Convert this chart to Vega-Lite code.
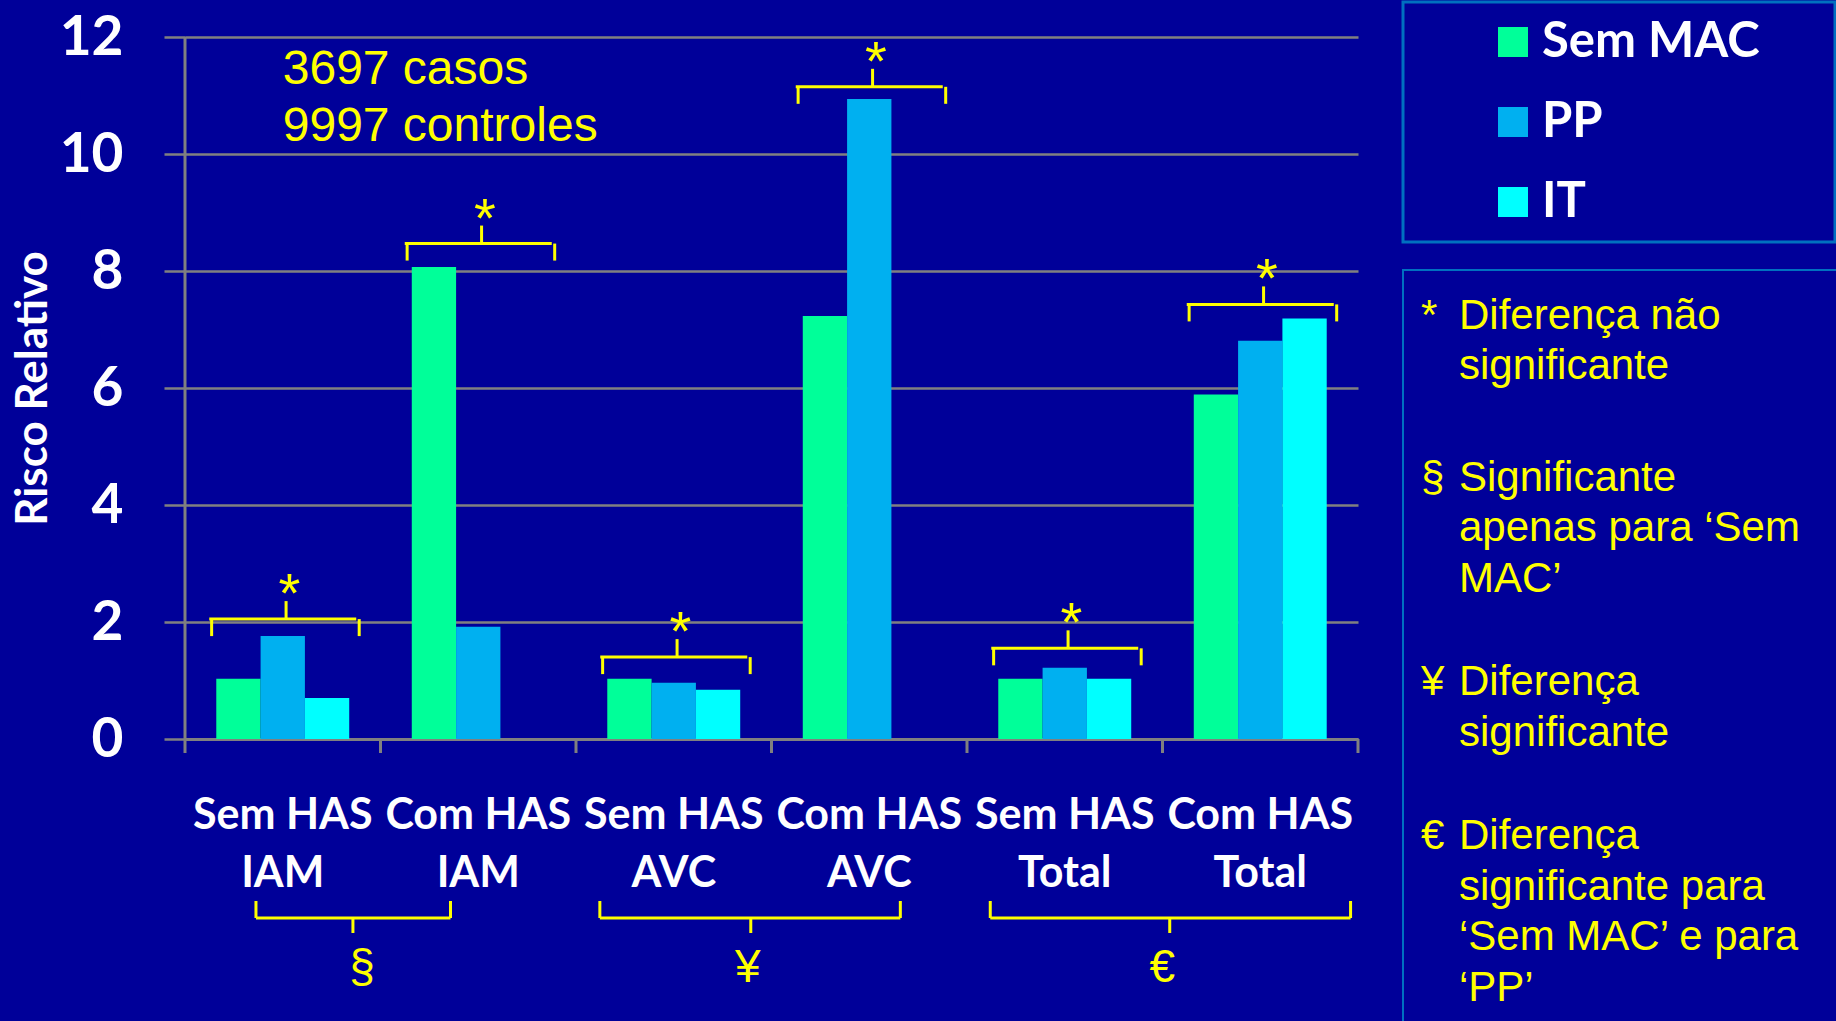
{
  "$schema": "https://vega.github.io/schema/vega-lite/v6.json",
  "background": "#000099",
  "padding": {"left": 11, "top": 0, "right": 0, "bottom": 0},
  "config": {"view": {"stroke": null}, "font": "Lato"},
  "datasets": {
    "risco": [
      {"grupo": "Sem HAS IAM", "metodo": "Sem MAC", "risco": 1.03},
      {"grupo": "Sem HAS IAM", "metodo": "PP", "risco": 1.76},
      {"grupo": "Sem HAS IAM", "metodo": "IT", "risco": 0.7},
      {"grupo": "Com HAS IAM", "metodo": "Sem MAC", "risco": 8.07},
      {"grupo": "Com HAS IAM", "metodo": "PP", "risco": 1.92},
      {"grupo": "Sem HAS AVC", "metodo": "Sem MAC", "risco": 1.03},
      {"grupo": "Sem HAS AVC", "metodo": "PP", "risco": 0.96},
      {"grupo": "Sem HAS AVC", "metodo": "IT", "risco": 0.84},
      {"grupo": "Com HAS AVC", "metodo": "Sem MAC", "risco": 7.23},
      {"grupo": "Com HAS AVC", "metodo": "PP", "risco": 10.94},
      {"grupo": "Sem HAS Total", "metodo": "Sem MAC", "risco": 1.03},
      {"grupo": "Sem HAS Total", "metodo": "PP", "risco": 1.22},
      {"grupo": "Sem HAS Total", "metodo": "IT", "risco": 1.03},
      {"grupo": "Com HAS Total", "metodo": "Sem MAC", "risco": 5.89},
      {"grupo": "Com HAS Total", "metodo": "PP", "risco": 6.81},
      {"grupo": "Com HAS Total", "metodo": "IT", "risco": 7.19}
    ],
    "chaves": [
      {"grupo": "Sem HAS IAM", "nivel": 2.05, "marca": "*"},
      {"grupo": "Com HAS IAM", "nivel": 8.47, "marca": "*"},
      {"grupo": "Sem HAS AVC", "nivel": 1.4, "marca": "*"},
      {"grupo": "Com HAS AVC", "nivel": 11.15, "marca": "*"},
      {"grupo": "Sem HAS Total", "nivel": 1.55, "marca": "*"},
      {"grupo": "Com HAS Total", "nivel": 7.43, "marca": "*"}
    ],
    "chaves_inf": [
      {"simbolo": "§", "xs": 0.363, "xe": 1.358, "xc": 0.859, "xsim": 0.905, "nivel": -3.06},
      {"simbolo": "¥", "xs": 2.122, "xe": 3.659, "xc": 2.894, "xsim": 2.879, "nivel": -3.06},
      {"simbolo": "€", "xs": 4.119, "xe": 5.962, "xc": 5.037, "xsim": 4.999, "nivel": -3.06}
    ],
    "divisas": [{"b": 0}, {"b": 1}, {"b": 2}, {"b": 3}, {"b": 4}, {"b": 5}, {"b": 6}],
    "anotacao": [
      {"grupo": "Sem HAS IAM", "texto": "3697 casos", "nivel": 11.2},
      {"grupo": "Sem HAS IAM", "texto": "9997 controles", "nivel": 10.23}
    ],
    "legenda": [{"metodo": "Sem MAC"}, {"metodo": "PP"}, {"metodo": "IT"}],
    "notas": [
      {"linha": 0, "simbolo": "*", "texto": "Diferença não"},
      {"linha": 1, "texto": "significante"},
      {"linha": 3.2, "simbolo": "§", "texto": "Significante"},
      {"linha": 4.2, "texto": "apenas para ‘Sem"},
      {"linha": 5.2, "texto": "MAC’"},
      {"linha": 7.25, "simbolo": "¥", "texto": "Diferença"},
      {"linha": 8.25, "texto": "significante"},
      {"linha": 10.3, "simbolo": "€", "texto": "Diferença"},
      {"linha": 11.3, "texto": "significante para"},
      {"linha": 12.3, "texto": "‘Sem MAC’ e para"},
      {"linha": 13.3, "texto": "‘PP’"}
    ]
  },
  "spacing": 45,
  "bounds": "flush",
  "hconcat": [
    {
      "width": 1173,
      "height": 737,
      "resolve": {"scale": {"x": "independent"}},
      "layer": [
        {
          "layer": [
            {
              "data": {"name": "risco"},
              "mark": {"type": "bar"},
              "encoding": {
                "x": {
                  "field": "grupo", "type": "nominal", "title": null,
                  "scale": {"domain": ["Sem HAS IAM", "Com HAS IAM", "Sem HAS AVC", "Com HAS AVC", "Sem HAS Total", "Com HAS Total"], "paddingInner": 0.32, "paddingOuter": 0.16},
                  "axis": {
                    "title": null,
                    "labelExpr": "[slice(datum.label, 0, 7), slice(datum.label, 8)]",
                    "labelAngle": 0, "labelFont": "Lato", "labelFontSize": 43, "labelFontWeight": "bold",
                    "labelColor": "#FFFFFF", "labelPadding": 55, "labelBaseline": "top", "labelLineHeight": 58,
                    "labelOverlap": false, "labelLimit": 400,
                    "ticks": false, "domain": true, "domainColor": "#808080", "domainWidth": 3, "grid": false
                  }
                },
                "xOffset": {"field": "metodo", "type": "nominal", "scale": {"domain": ["Sem MAC", "PP", "IT"], "paddingInner": 0, "paddingOuter": 0}},
                "y": {
                  "field": "risco", "type": "quantitative", "title": "Risco Relativo",
                  "scale": {"domain": [0, 12.6], "nice": false, "zero": true},
                  "axis": {
                    "values": [0, 2, 4, 6, 8, 10, 12], "format": "d", "title": "Risco Relativo",
                    "grid": true, "gridColor": "#808080", "gridWidth": 2.5,
                    "domain": false, "ticks": true, "tickSize": 21, "tickColor": "#808080", "tickWidth": 2.5,
                    "labelFont": "Lato", "labelFontSize": 55, "labelFontWeight": "bold", "labelColor": "#FFFFFF", "labelPadding": 41,
                    "titleFont": "Lato", "titleFontSize": 44, "titleFontWeight": "bold", "titleColor": "#FFFFFF",
                    "titleX": -152, "titleY": 386, "titleAngle": -90, "titleBaseline": "middle", "titleAlign": "center"
                  }
                },
                "color": {"field": "metodo", "type": "nominal", "scale": {"domain": ["Sem MAC", "PP", "IT"], "range": ["#00FF99", "#00B0F0", "#00FFFF"]}, "legend": null}
              }
            },
            {
              "data": {"name": "chaves"},
              "mark": {"type": "tick", "orient": "horizontal", "size": 147, "thickness": 3, "color": "#FFFF00", "opacity": 1},
              "encoding": {
                "x": {"field": "grupo", "type": "nominal", "bandPosition": 0.52, "title": null},
                "y": {"field": "nivel", "type": "quantitative", "title": "Risco Relativo"}
              }
            },
            {
              "data": {"name": "chaves"},
              "mark": {"type": "rule", "color": "#FFFF00", "strokeWidth": 3, "y2Offset": 17},
              "encoding": {
                "x": {"field": "grupo", "type": "nominal", "bandPosition": -0.035, "title": null},
                "y": {"field": "nivel", "type": "quantitative", "title": "Risco Relativo"},
                "y2": {"field": "nivel"}
              }
            },
            {
              "data": {"name": "chaves"},
              "mark": {"type": "rule", "color": "#FFFF00", "strokeWidth": 3, "y2Offset": 17},
              "encoding": {
                "x": {"field": "grupo", "type": "nominal", "bandPosition": 1.075, "title": null},
                "y": {"field": "nivel", "type": "quantitative", "title": "Risco Relativo"},
                "y2": {"field": "nivel"}
              }
            },
            {
              "data": {"name": "chaves"},
              "mark": {"type": "rule", "color": "#FFFF00", "strokeWidth": 3, "y2Offset": -18},
              "encoding": {
                "x": {"field": "grupo", "type": "nominal", "bandPosition": 0.525, "title": null},
                "y": {"field": "nivel", "type": "quantitative", "title": "Risco Relativo"},
                "y2": {"field": "nivel"}
              }
            },
            {
              "data": {"name": "chaves"},
              "mark": {"type": "text", "font": "Liberation Sans", "fontSize": 56, "color": "#FFFF00", "baseline": "alphabetic", "align": "center", "dy": -7},
              "encoding": {
                "x": {"field": "grupo", "type": "nominal", "bandPosition": 0.55, "title": null},
                "y": {"field": "nivel", "type": "quantitative", "title": "Risco Relativo"},
                "text": {"field": "marca"}
              }
            },
            {
              "data": {"name": "anotacao"},
              "mark": {"type": "text", "align": "left", "baseline": "alphabetic", "font": "Liberation Sans", "fontSize": 48, "color": "#FFFF00"},
              "encoding": {
                "x": {"field": "grupo", "type": "nominal", "title": null},
                "y": {"field": "nivel", "type": "quantitative", "title": "Risco Relativo"},
                "text": {"field": "texto"}
              }
            }
          ]
        },
        {
          "layer": [
            {
              "data": {"name": "divisas"},
              "mark": {"type": "rule", "color": "#808080", "strokeWidth": 3, "y2Offset": 14},
              "encoding": {
                "x": {"field": "b", "type": "quantitative", "scale": {"domain": [0, 6], "nice": false, "zero": false}, "axis": null},
                "y": {"datum": 0, "type": "quantitative"},
                "y2": {"datum": 0}
              }
            },
            {
              "data": {"values": [{"eixo": "y"}]},
              "mark": {"type": "rule", "color": "#808080", "strokeWidth": 3},
              "encoding": {
                "x": {"datum": 0, "type": "quantitative", "scale": {"domain": [0, 6], "nice": false, "zero": false}, "axis": null},
                "y": {"datum": 0, "type": "quantitative"},
                "y2": {"datum": 12}
              }
            },
            {
              "data": {"name": "chaves_inf"},
              "mark": {"type": "rule", "color": "#FFFF00", "strokeWidth": 3},
              "encoding": {
                "x": {"field": "xs", "type": "quantitative", "scale": {"domain": [0, 6], "nice": false, "zero": false}, "axis": null},
                "x2": {"field": "xe"},
                "y": {"field": "nivel", "type": "quantitative", "title": "Risco Relativo"}
              }
            },
            {
              "data": {"name": "chaves_inf"},
              "mark": {"type": "rule", "color": "#FFFF00", "strokeWidth": 3, "y2Offset": -17},
              "encoding": {
                "x": {"field": "xs", "type": "quantitative", "scale": {"domain": [0, 6], "nice": false, "zero": false}, "axis": null},
                "y": {"field": "nivel", "type": "quantitative", "title": "Risco Relativo"},
                "y2": {"field": "nivel"}
              }
            },
            {
              "data": {"name": "chaves_inf"},
              "mark": {"type": "rule", "color": "#FFFF00", "strokeWidth": 3, "y2Offset": -17},
              "encoding": {
                "x": {"field": "xe", "type": "quantitative", "scale": {"domain": [0, 6], "nice": false, "zero": false}, "axis": null},
                "y": {"field": "nivel", "type": "quantitative", "title": "Risco Relativo"},
                "y2": {"field": "nivel"}
              }
            },
            {
              "data": {"name": "chaves_inf"},
              "mark": {"type": "rule", "color": "#FFFF00", "strokeWidth": 3, "y2Offset": 15},
              "encoding": {
                "x": {"field": "xc", "type": "quantitative", "scale": {"domain": [0, 6], "nice": false, "zero": false}, "axis": null},
                "y": {"field": "nivel", "type": "quantitative", "title": "Risco Relativo"},
                "y2": {"field": "nivel"}
              }
            },
            {
              "data": {"name": "chaves_inf"},
              "mark": {"type": "text", "font": "Liberation Sans", "fontSize": 46, "color": "#FFFF00", "align": "center", "baseline": "alphabetic", "dy": 64},
              "encoding": {
                "x": {"field": "xsim", "type": "quantitative", "scale": {"domain": [0, 6], "nice": false, "zero": false}, "axis": null},
                "y": {"field": "nivel", "type": "quantitative", "title": "Risco Relativo"},
                "text": {"field": "simbolo"}
              }
            }
          ]
        }
      ]
    },
    {
      "spacing": 28,
      "bounds": "flush",
      "vconcat": [
        {
          "width": 432,
          "height": 240,
          "view": {"stroke": "#0070C0", "strokeWidth": 3},
          "data": {"name": "legenda"},
          "layer": [
            {
              "mark": {"type": "square", "size": 900, "filled": true, "opacity": 1},
              "encoding": {
                "x": {"datum": "símbolo", "type": "nominal", "scale": {"type": "point", "domain": ["símbolo", "rótulo"], "range": [110, 139], "padding": 0}, "axis": null},
                "y": {"field": "metodo", "type": "nominal", "scale": {"type": "point", "domain": ["Sem MAC", "PP", "IT"], "padding": 0.5}, "axis": null},
                "color": {"field": "metodo", "type": "nominal", "scale": {"domain": ["Sem MAC", "PP", "IT"], "range": ["#00FF99", "#00B0F0", "#00FFFF"]}, "legend": null}
              }
            },
            {
              "mark": {"type": "text", "align": "left", "baseline": "middle", "font": "Lato", "fontWeight": "bold", "fontSize": 49, "color": "#FFFFFF"},
              "encoding": {
                "x": {"datum": "rótulo", "type": "nominal", "scale": {"type": "point", "domain": ["símbolo", "rótulo"], "range": [110, 139], "padding": 0}, "axis": null},
                "y": {"field": "metodo", "type": "nominal", "scale": {"type": "point", "domain": ["Sem MAC", "PP", "IT"], "padding": 0.5}, "axis": null},
                "text": {"field": "metodo"}
              }
            }
          ]
        },
        {
          "width": 445,
          "height": 760,
          "view": {"stroke": "#0070C0", "strokeWidth": 2},
          "data": {"name": "notas"},
          "layer": [
            {
              "transform": [{"filter": "isValid(datum.simbolo)"}],
              "mark": {"type": "text", "align": "left", "baseline": "alphabetic", "font": "Liberation Sans", "fontSize": 42, "color": "#FFFF00"},
              "encoding": {
                "x": {"datum": "símbolo", "type": "nominal", "scale": {"type": "point", "domain": ["símbolo", "texto"], "range": [18, 56], "padding": 0}, "axis": null},
                "y": {"field": "linha", "type": "quantitative", "scale": {"domain": [-1.168, 13.88], "reverse": true, "nice": false, "zero": false}, "axis": null},
                "text": {"field": "simbolo"}
              }
            },
            {
              "mark": {"type": "text", "align": "left", "baseline": "alphabetic", "font": "Liberation Sans", "fontSize": 42, "color": "#FFFF00"},
              "encoding": {
                "x": {"datum": "texto", "type": "nominal", "scale": {"type": "point", "domain": ["símbolo", "texto"], "range": [18, 56], "padding": 0}, "axis": null},
                "y": {"field": "linha", "type": "quantitative", "scale": {"domain": [-1.168, 13.88], "reverse": true, "nice": false, "zero": false}, "axis": null},
                "text": {"field": "texto"}
              }
            }
          ]
        }
      ]
    }
  ]
}
